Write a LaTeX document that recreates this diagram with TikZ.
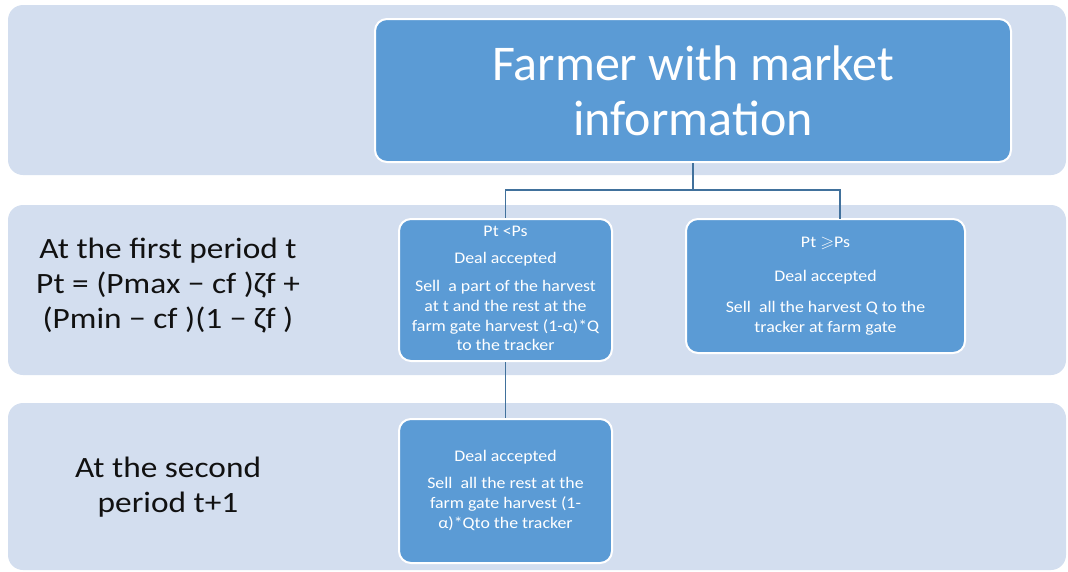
\documentclass[tikz,border=0pt]{standalone}
\usepackage{amssymb}
\usepackage{graphicx}
\usepackage{fontspec}
\setmainfont{Carlito}
\definecolor{band}{HTML}{D3DEEF}
\definecolor{boxfill}{HTML}{5B9BD5}
\definecolor{conn}{HTML}{41719C}
\definecolor{ink}{HTML}{111111}
\newcommand{\sidelines}[1]{\scalebox{1.13}[1]{\begin{tabular}{@{}c@{}}#1\end{tabular}}}
\newcommand{\boxlines}[1]{\scalebox{1.1}[1]{\begin{tabular}{@{}c@{}}#1\end{tabular}}}
\begin{document}
\begin{tikzpicture}[x=1pt,y=-1pt,
  bandbox/.style={fill=band, draw=none, rounded corners=15pt},
  bluebox/.style={fill=boxfill, draw=white, line width=2pt, rounded corners=12pt,
    text=white, align=center, inner sep=0pt},
  smalltext/.style={font=\fontsize{16.2}{19.8}\selectfont},
  sidetext/.style={text=ink, inner sep=0pt, font=\fontsize{29.5}{35}\selectfont},
  link/.style={draw=conn, line width=1.6pt}]
\useasboundingbox (0,0) rectangle (1068,571);
% bands
\fill[bandbox] (8,5) rectangle (1066,175);
\fill[bandbox] (8,205) rectangle (1066,375);
\fill[bandbox] (8,403) rectangle (1066,570);
% boxes
\node[bluebox, minimum width=636pt, minimum height=143pt,
  font=\fontsize{50}{55}\selectfont] (top) at (693,90.5)
  {Farmer with market\\information};
\node[bluebox, smalltext, minimum width=213pt, minimum height=142pt] (A) at (505.5,290)
  {\boxlines{Pt {<}Ps\\[7pt] Deal accepted\\[8pt] Sell\ \ a part of the harvest\\ at t and the rest at the\\ farm gate harvest (1-α)*Q\\ to the tracker}};
\node[bluebox, smalltext, minimum width=279pt, minimum height=134pt] (B) at (825.5,286)
  {\boxlines{Pt $\geqslant$Ps\\[14pt] Deal accepted\\[12pt] Sell\ \ all the harvest Q to the\\ tracker at farm gate}};
\node[bluebox, smalltext, minimum width=213pt, minimum height=144pt] (C) at (505.5,491)
  {\boxlines{Deal accepted\\[7pt] Sell\ \ all the rest at the\\ farm gate harvest (1-\\ α)*Qto the tracker}};
% side labels
\node[sidetext] (L1) at (168,286)
  {\sidelines{At the first period t\\ Pt = (Pmax − cf )ζf +\\ (Pmin − cf )(1 − ζf )}};
\node[sidetext] (L2) at (168,488)
  {\sidelines{At the second\\ period t+1}};
% connectors
\coordinate (j) at (693,190);
\coordinate (bt) at (840,219);
\draw[link] (top.south) -- (j);
\draw[link] (j) -| (A.north);
\draw[link] (j) -| (bt);
\draw[link] (A.south) -- (C.north);
\end{tikzpicture}
\end{document}
